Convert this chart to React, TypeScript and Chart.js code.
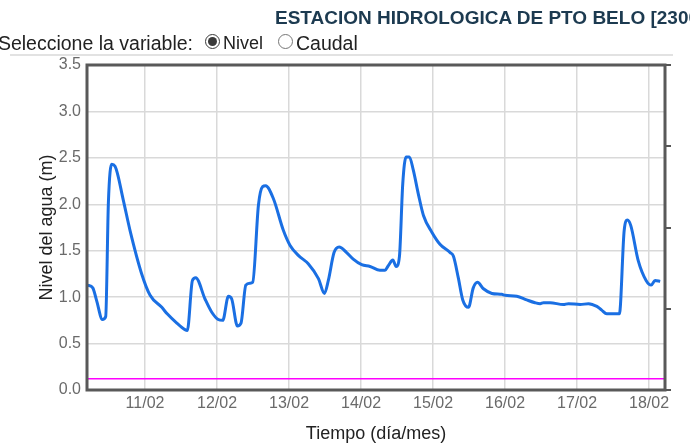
import React, { useEffect, useRef } from "react";
import { Chart, registerables } from "chart.js";

Chart.register(...registerables);

// Hours since 10/02 00:00
const hours = [4.8, 6.6, 7.9, 9.8, 10.9, 11.8, 12.9, 14.0, 16.8, 19.0, 22.9, 25.7, 29.6, 31.4, 34.6, 37.3, 38.1, 39.8, 40.9, 44.0, 46.2, 48.4, 49.9, 51.8, 52.9, 54.8, 56.0, 57.6, 59.0, 59.9, 61.8, 63.2, 64.2, 66.8, 70.1, 72.3, 75.1, 78.4, 81.8, 83.8, 85.1, 87.0, 88.7, 91.2, 93.4, 96.2, 99.0, 102.3, 104.0, 105.1, 106.6, 107.7, 108.8, 109.9, 111.0, 112.1, 113.4, 115.1, 116.8, 119.6, 122.3, 125.7, 126.8, 128.4, 129.9, 131.8, 133.4, 134.8, 136.8, 139.6, 142.9, 144.0, 147.9, 151.2, 154.0, 155.7, 156.8, 159.0, 163.4, 165.1, 169.0, 171.8, 174.6, 176.2, 177.9, 181.2, 182.1, 183.7, 184.8, 185.9, 188.4, 191.0, 192.7, 194.0, 195.7];
const nivel = [1.13, 1.10, 0.96, 0.76, 0.79, 2.02, 2.43, 2.41, 2.04, 1.72, 1.25, 1.02, 0.89, 0.82, 0.72, 0.65, 0.64, 1.18, 1.21, 0.98, 0.84, 0.76, 0.75, 1.01, 0.98, 0.69, 0.72, 1.13, 1.15, 1.16, 1.99, 2.19, 2.20, 2.06, 1.72, 1.56, 1.45, 1.36, 1.20, 1.04, 1.18, 1.48, 1.54, 1.48, 1.41, 1.35, 1.33, 1.29, 1.29, 1.34, 1.40, 1.33, 1.44, 2.22, 2.51, 2.51, 2.37, 2.11, 1.88, 1.70, 1.57, 1.48, 1.44, 1.21, 0.97, 0.89, 1.10, 1.16, 1.09, 1.04, 1.03, 1.02, 1.01, 0.97, 0.94, 0.93, 0.94, 0.94, 0.92, 0.93, 0.92, 0.93, 0.90, 0.86, 0.82, 0.82, 0.82, 1.72, 1.83, 1.77, 1.39, 1.18, 1.13, 1.18, 1.17];
const umbral = 0.12;
const xMin = 4.67;
const xMax = 197.3;
const dayTicks = [24, 48, 72, 96, 120, 144, 168, 192];
const dayLabel = (h: number) => `${10 + Math.round(h / 24)}/02`;

const FONT = "Arial, 'Liberation Sans', sans-serif";

const frame = {
  id: "frame",
  afterDatasetsDraw(chart: any) {
    const { ctx, chartArea: a } = chart;
    ctx.save();
    ctx.strokeStyle = "#595959";
    ctx.lineWidth = 3;
    ctx.strokeRect(a.left, a.top, a.right - a.left, a.bottom - a.top);
    ctx.restore();
  },
};

export default function App() {
  const ref = useRef<HTMLCanvasElement>(null);
  useEffect(() => {
    const chart = new Chart(ref.current!, {
      type: "line",
      data: {
        datasets: [
          {
            data: hours.map((h, i) => ({ x: h, y: nivel[i] })),
            borderColor: "#1a6fe3",
            borderWidth: 3,
            pointRadius: 0,
            cubicInterpolationMode: "monotone",
            yAxisID: "y",
          },
          {
            data: [
              { x: xMin, y: umbral },
              { x: xMax, y: umbral },
            ],
            borderColor: "#ff00ff",
            borderWidth: 1.5,
            pointRadius: 0,
            yAxisID: "y",
          },
        ],
      },
      options: {
        animation: false,
        responsive: false,
        layout: { padding: { top: 65, left: 0, right: 0, bottom: 0 } },
        plugins: { legend: { display: false }, tooltip: { enabled: false } },
        scales: {
          x: {
            type: "linear",
            min: xMin,
            max: xMax,
            afterBuildTicks: (s: any) => {
              s.ticks = dayTicks.map((v) => ({ value: v }));
            },
            afterFit: (s: any) => {
              s.height = 56;
            },
            ticks: {
              callback: (v: any) => dayLabel(Number(v)),
              font: { family: FONT, size: 16 },
              color: "#6a6a6a",
              padding: 4,
              maxRotation: 0,
              autoSkip: false,
            },
            grid: { color: "#d9d9d9", lineWidth: 1.5, drawTicks: false },
            border: { display: false },
            title: {
              display: true,
              text: "Tiempo (día/mes)",
              font: { family: FONT, size: 18 },
              color: "#222",
              padding: { top: 0, bottom: 1 },
            },
          },
          y: {
            position: "left",
            min: 0,
            max: 3.5,
            ticks: {
              stepSize: 0.5,
              callback: (v: any) => Number(v).toFixed(1),
              font: { family: FONT, size: 16 },
              color: "#6a6a6a",
              padding: 6,
            },
            afterFit: (s: any) => {
              s.width = 87;
            },
            grid: { color: "#d9d9d9", lineWidth: 1.5, drawTicks: false },
            border: { display: false },
            title: {
              display: true,
              text: "Nivel del agua (m)",
              font: { family: FONT, size: 18 },
              color: "#222",
              padding: { top: 36, bottom: 0 },
            },
          },
          y2: {
            position: "right",
            min: 0,
            max: 4,
            ticks: { stepSize: 1, callback: () => "", padding: 0 },
            afterFit: (s: any) => {
              s.width = 25;
            },
            grid: {
              drawOnChartArea: false,
              drawTicks: true,
              tickLength: 6,
              color: "#555",
              lineWidth: 2,
            },
            border: { display: false },
          },
        },
      },
      plugins: [frame],
    } as any);
    return () => chart.destroy();
  }, []);

  const text: React.CSSProperties = {
    position: "absolute",
    fontFamily: FONT,
    fontSize: 19.5,
    lineHeight: "19.5px",
    color: "#222",
    whiteSpace: "nowrap",
  };

  return (
    <div
      style={{
        position: "fixed",
        left: 0,
        top: 0,
        width: 690,
        height: 446,
        overflow: "hidden",
        background: "#fff",
      }}
    >
      <canvas ref={ref} width={690} height={446} style={{ position: "absolute", left: 0, top: 0 }} />
      <div
        style={{
          ...text,
          left: 275,
          top: 8,
          fontSize: 19,
          lineHeight: "19px",
          fontWeight: "bold",
          color: "#1c3a50",
        }}
      >
        ESTACION HIDROLOGICA DE PTO BELO [230021]
      </div>
      <div style={{ ...text, right: 497, top: 33.5, textAlign: "right" }}>Seleccione la variable:</div>
      <input
        type="radio"
        checked
        readOnly
        style={{ position: "absolute", left: 205, top: 34, width: 15, height: 15, margin: 0, accentColor: "#3a3a3a" }}
      />
      <div style={{ ...text, left: 223, top: 33.5, fontSize: 18 }}>Nivel</div>
      <input
        type="radio"
        readOnly
        checked={false}
        style={{ position: "absolute", left: 278, top: 34, width: 15, height: 15, margin: 0, accentColor: "#3a3a3a" }}
      />
      <div style={{ ...text, left: 296, top: 33.5 }}>Caudal</div>
      <div
        style={{
          position: "absolute",
          left: 10,
          top: 54,
          width: 663,
          height: 2,
          background: "#e2e2e2",
        }}
      />
    </div>
  );
}
